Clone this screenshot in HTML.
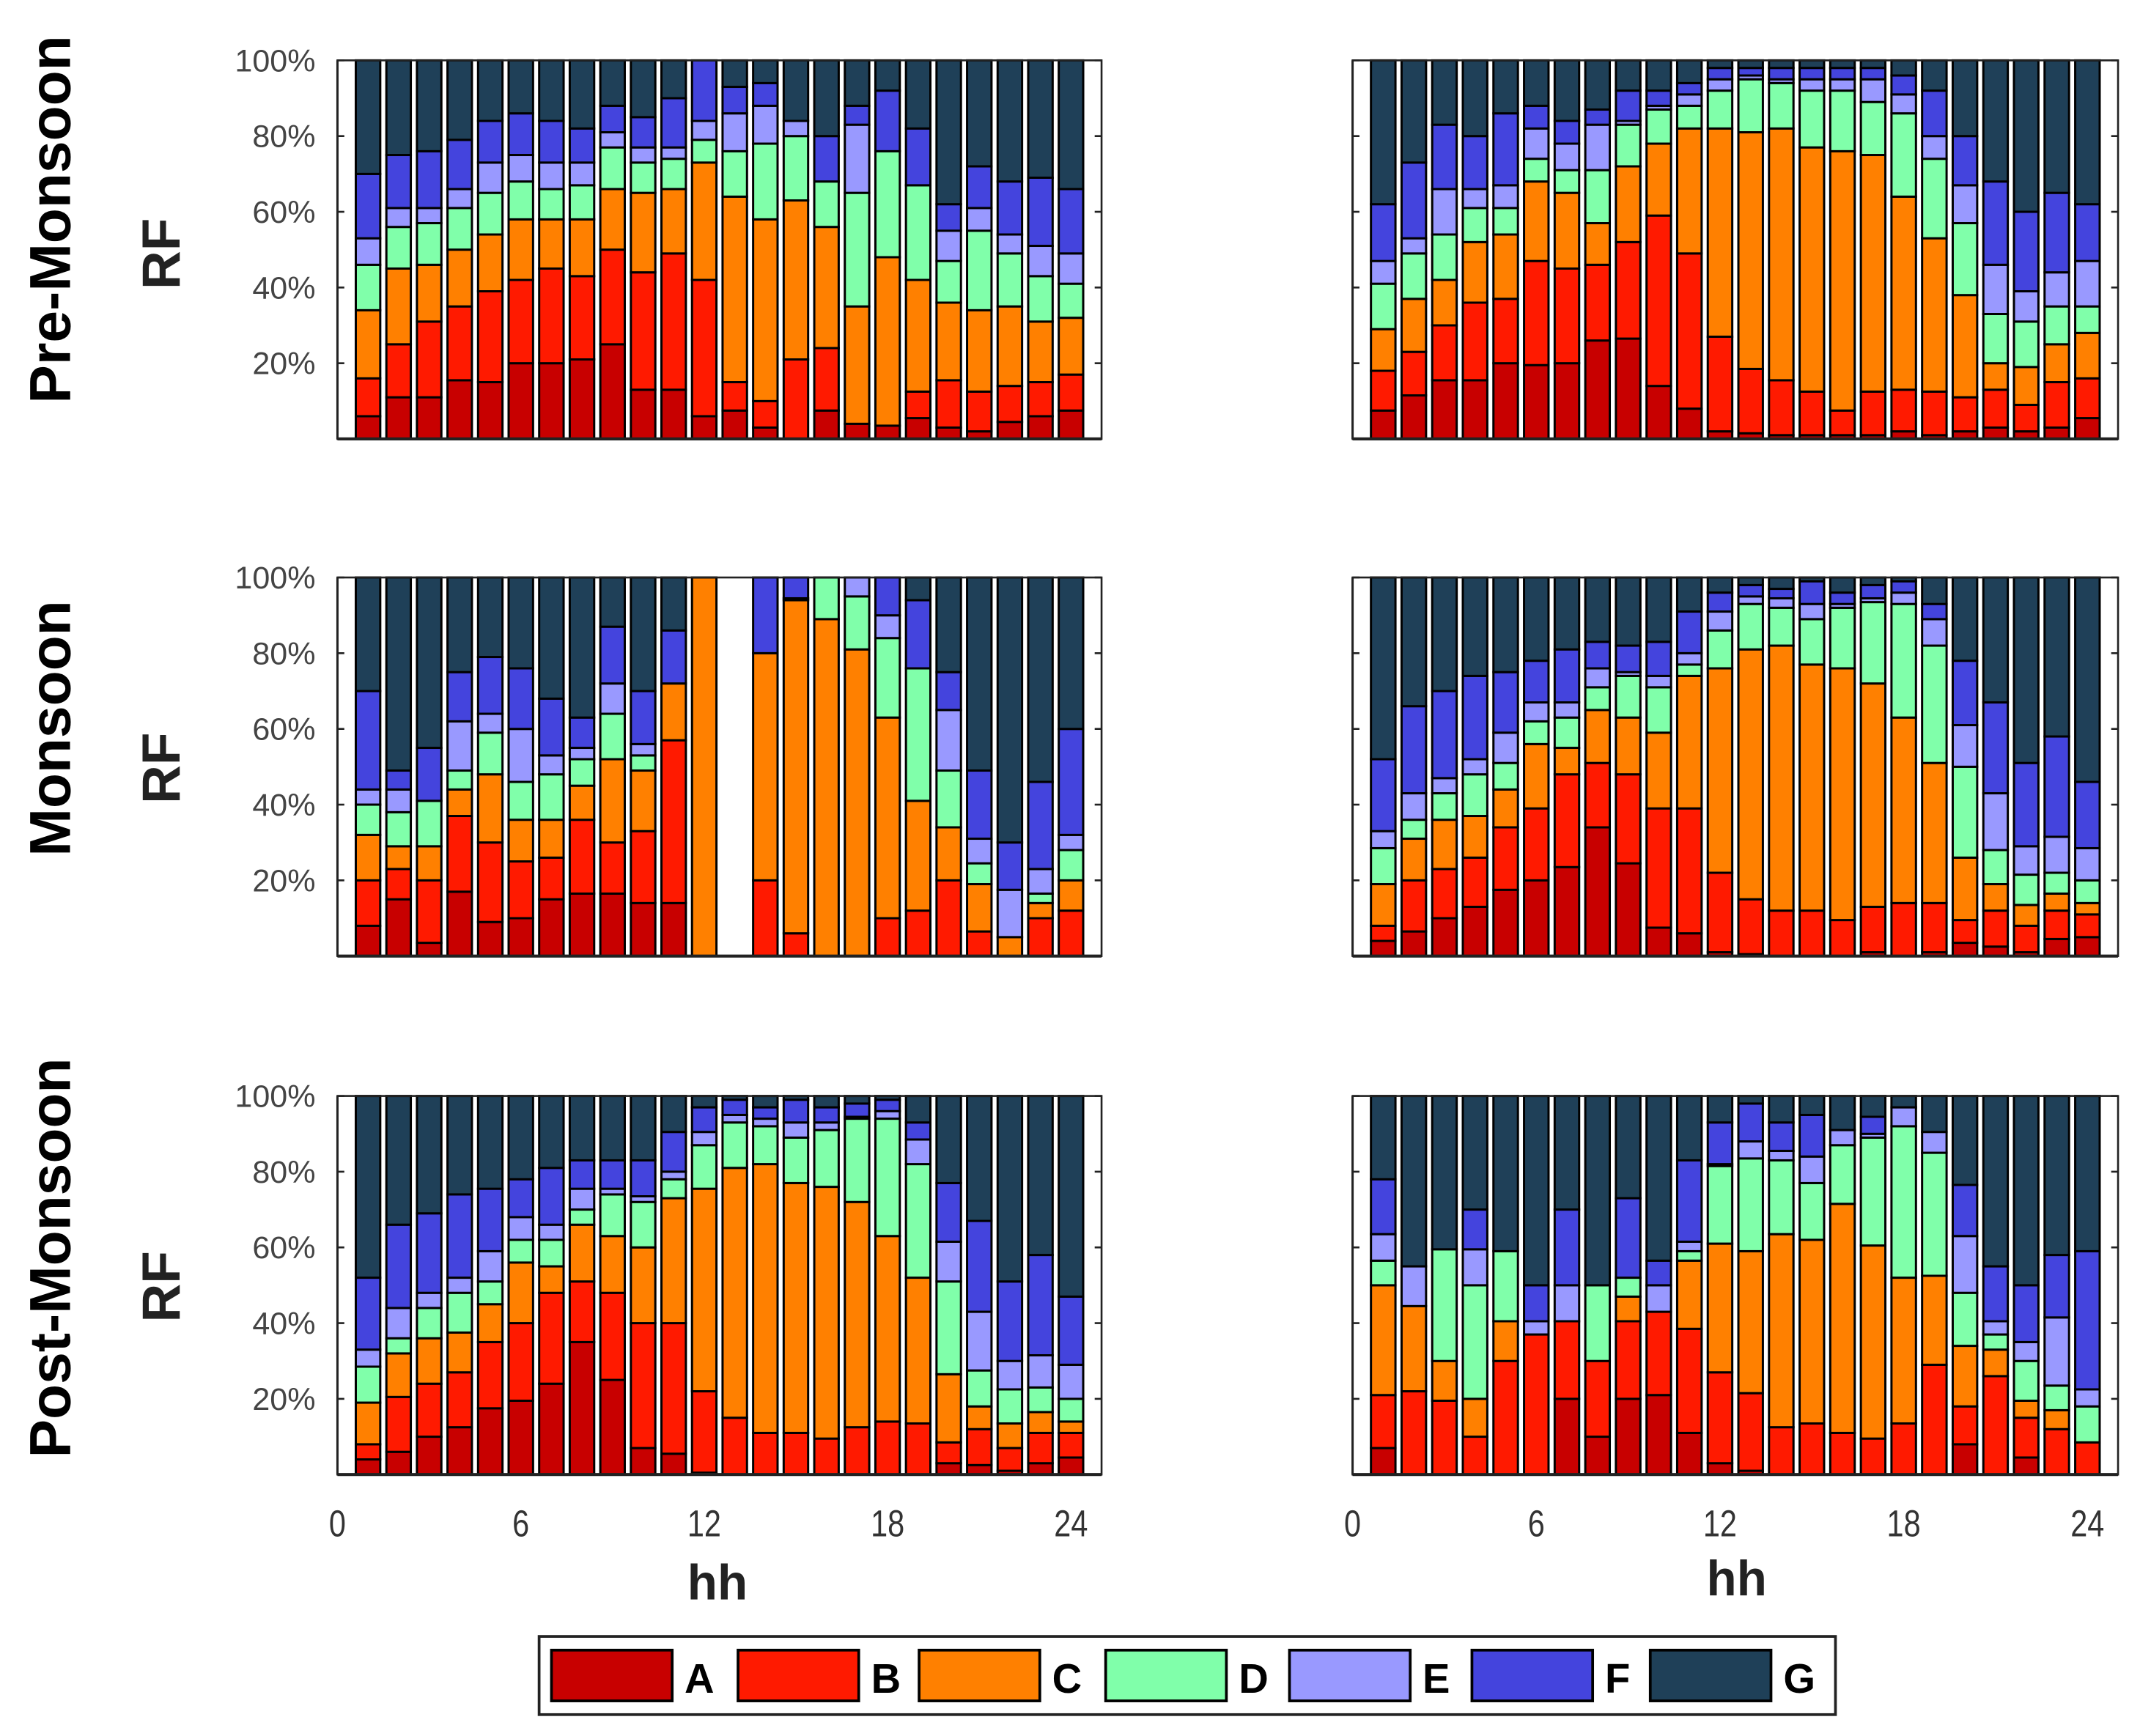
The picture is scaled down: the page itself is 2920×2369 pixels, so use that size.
<!DOCTYPE html>
<html><head><meta charset="utf-8"><title>RF stacked bars</title>
<style>
html,body{margin:0;padding:0;background:#fff;}
svg{display:block;}
</style></head>
<body>
<svg id="chart" width="2920" height="2369" viewBox="0 0 1560 1265.6" preserveAspectRatio="none" xmlns="http://www.w3.org/2000/svg" font-family="'Liberation Sans', sans-serif">
<g id="panels"></g>
<g font-weight="bold" font-size="42" fill="#000">
  <text transform="translate(51,160) rotate(-90)" text-anchor="middle">Pre-Monsoon</text>
  <text transform="translate(51,531) rotate(-90)" text-anchor="middle">Monsoon</text>
  <text transform="translate(51,917) rotate(-90)" text-anchor="middle">Post-Monsoon</text>
</g>
<g font-weight="bold" font-size="39" fill="#222">
  <text transform="translate(131,185) rotate(-90)" text-anchor="middle">RF</text>
  <text transform="translate(131,560) rotate(-90)" text-anchor="middle">RF</text>
  <text transform="translate(131,938) rotate(-90)" text-anchor="middle">RF</text>
</g>
<g font-weight="bold" font-size="36" fill="#222" text-anchor="middle">
  <text x="523" y="1166">hh</text>
  <text x="1266" y="1163">hh</text>
</g>
<g id="legend"></g>
</svg>
<script>
// ---- categories & series ----
const hours = [1,2,3,4,5,6,7,8,9,10,11,12,13,14,15,16,17,18,19,20,21,22,23,24];
const seriesNames = ["A","B","C","D","E","F","G"];
const seriesColors = ["#c80000","#ff1a00","#ff8000","#80ffaa","#9999ff","#4444dd","#1f4058"];
const yTickValues = [20,40,60,80,100];
const yTickLabels = ["20%","40%","60%","80%","100%"];
const xTickValues = [0,6,12,18,24];
const xTickLabels = ["0","6","12","18","24"];

// Cumulative share (%) at the top of each segment A..F (G fills to 100%)
// Pre-Monsoon, left
const preLeftA = [6,11,11,15.5,15,20,20,21,25,13,13,6,7.5,3,0,7.5,4,3.5,5.5,3,2,4.5,6,7.5];
const preLeftB = [16,25,31,35,39,42,45,43,50,44,49,42,15,10,21,24,4,3.5,12.5,15.5,12.5,14,15,17];
const preLeftC = [34,45,46,50,54,58,58,58,66,65,66,73,64,58,63,56,35,48,42,36,34,35,31,32];
const preLeftD = [46,56,57,61,65,68,66,67,77,73,74,79,76,78,80,68,65,76,67,47,55,49,43,41];
const preLeftE = [53,61,61,66,73,75,73,73,81,77,77,84,86,88,84,68,83,76,67,55,61,54,51,49];
const preLeftF = [70,75,76,79,84,86,84,82,88,85,90,100,93,94,84,80,88,92,82,62,72,68,69,66];
// Pre-Monsoon, right
const preRightA = [7.5,11.5,15.5,15.5,20,19.5,20,26,26.5,14,8,2,1.5,1,1,1,1,2,1,2,3,2,3,5.5];
const preRightB = [18,23,30,36,37,47,45,46,52,59,49,27,18.5,15.5,12.5,7.5,12.5,13,12.5,11,13,9,15,16];
const preRightC = [29,37,42,52,54,68,65,57,72,78,82,82,81,82,77,76,75,64,53,38,20,19,25,28];
const preRightD = [41,49,54,61,61,74,71,71,83,87,88,92,95,94,92,92,89,86,74,57,33,31,35,35];
const preRightE = [47,53,66,66,67,82,78,83,84,88,91,95,96,95,95,95,95,91,80,67,46,39,44,47];
const preRightF = [62,73,83,80,86,88,84,87,92,92,94,98,98,98,98,98,98,96,92,80,68,60,65,62];
// Monsoon, left (hour 13 has no data)
const monLeftA = [8,15,3.5,17,9,10,15,16.5,16.5,14,14,0,null,0,0,0,0,0,0,0,0,0,0,0];
const monLeftB = [20,23,20,37,30,25,26,36,30,33,57,0,null,20,6,0,0,10,12,20,6.5,0,10,12];
const monLeftC = [32,29,29,44,48,36,36,45,52,49,72,100,null,80,94,89,81,63,41,34,19,5,14,20];
const monLeftD = [40,38,41,49,59,46,48,52,64,53,72,100,null,80,94,100,95,84,76,49,24.5,5,16.5,28];
const monLeftE = [44,44,41,62,64,60,53,55,72,56,72,100,null,80,94.5,100,100,90,76,65,31,17.5,23,32];
const monLeftF = [70,49,55,75,79,76,68,63,87,70,86,100,null,100,100,100,100,100,94,75,49,30,46,60];
// Monsoon, right
const monRightA = [4,6.5,10,13,17.5,20,23.5,34,24.5,7.5,6,1,0.5,0,0,0,1,0,1,3.5,2.5,1,4.5,5];
const monRightB = [8,20,23,26,34,39,48,51,48,39,39,22,15,12,12,9.5,13,14,14,9.5,12,8,12,11];
const monRightC = [19,31,36,37,44,56,55,65,63,59,74,76,81,82,77,76,72,63,51,26,19,13.5,16.5,14];
const monRightD = [28.5,36,43,48,51,62,63,71,74,71,77,86,93,92,89,92,93.5,93,82,50,28,21.5,22,20];
const monRightE = [33,43,47,52,59,67,67,76,75,74,80,91,95,94.5,93,93,94.5,96,89,61,43,29,31.5,28.5];
const monRightF = [52,66,70,74,75,78,81,83,82,83,91,96,98,97,99,96,98,99,93,78,67,51,58,46];
// Post-Monsoon, left
const postLeftA = [4,6,10,12.5,17.5,19.5,24,35,25,7,5.5,0.5,0,0,0,0,0,0,0,3,2.5,1,3,4.5];
const postLeftB = [8,20.5,24,27,35,40,48,51,48,40,40,22,15,11,11,9.5,12.5,14,13.5,8.5,12,7,11,11];
const postLeftC = [19,32,36,37.5,45,56,55,66,63,60,73,75.5,81,82,77,76,72,63,52,26.5,18,13.5,16.5,14];
const postLeftD = [28.5,36,44,48,51,62,62,70,74,72,78,87,93,92,89,91,94,94,82,51,27.5,22.5,23,20];
const postLeftE = [33,44,48,52,59,68,66,75.5,75.5,73.5,80,90.5,95,94,93,93,94.5,96,88.5,61.5,43,30,31.5,29];
const postLeftF = [52,66,69,74,75.5,78,81,83,83,83,90.5,97,99,97,99,97,98,99,93,77,67,51,58,47];
// Post-Monsoon, right
const postRightA = [7,0,0,0,0,0,20,10,20,21,11,3,1,0,0,0,0,0,0,8,0,4.5,0,0];
const postRightB = [21,22,19.5,10,30,37,40.5,30,40.5,43,38.5,27,21.5,12.5,13.5,11,9.5,13.5,29,18,26,15,12,8.5];
const postRightC = [50,44.5,30,20,40.5,37,40.5,30,47,43,56.5,61,59,63.5,62,71.5,60.5,52,52.5,34,33,19.5,17,8.5];
const postRightD = [56.5,44.5,59.5,50,59,37,40.5,50,52,43,59,81.5,83.5,83,77,87,89,92,85,48,37,30,23.5,18];
const postRightE = [63.5,55,59.5,59.5,59,40.5,50,50,52,50,61.5,82,88,85.5,84,91,90,97,90.5,63,40.5,35,41.5,22.5];
const postRightF = [78,55,59.5,70,59,50,70,50,73,56.5,83,93,98,93,95,91,94.5,97,90.5,76.5,55,50,58,59];

const panels = [
  {name:"pre-monsoon-left",  x0:246, x1:803,  y0:320,  y1:44,  yLabels:true,  xLabels:false, s:[preLeftA,preLeftB,preLeftC,preLeftD,preLeftE,preLeftF]},
  {name:"pre-monsoon-right", x0:986, x1:1544, y0:320,  y1:44,  yLabels:false, xLabels:false, s:[preRightA,preRightB,preRightC,preRightD,preRightE,preRightF]},
  {name:"monsoon-left",      x0:246, x1:803,  y0:697,  y1:421, yLabels:true,  xLabels:false, s:[monLeftA,monLeftB,monLeftC,monLeftD,monLeftE,monLeftF]},
  {name:"monsoon-right",     x0:986, x1:1544, y0:697,  y1:421, yLabels:false, xLabels:false, s:[monRightA,monRightB,monRightC,monRightD,monRightE,monRightF]},
  {name:"post-monsoon-left", x0:246, x1:803,  y0:1075, y1:799, yLabels:true,  xLabels:true,  s:[postLeftA,postLeftB,postLeftC,postLeftD,postLeftE,postLeftF]},
  {name:"post-monsoon-right",x0:986, x1:1544, y0:1075, y1:799, yLabels:false, xLabels:true,  s:[postRightA,postRightB,postRightC,postRightD,postRightE,postRightF]}
];

const NS = "http://www.w3.org/2000/svg";
function mk(tag, attrs, parent){
  const e = document.createElementNS(NS, tag);
  for (const k in attrs) e.setAttribute(k, attrs[k]);
  if (parent) parent.appendChild(e);
  return e;
}
const root = document.getElementById("panels");
const XMIN = 0, XMAX = 25, BARW = 0.8;

panels.forEach(p => {
  const g = mk("g", {}, root);
  
  
  const xs = v => p.x0 + (v - XMIN) / (XMAX - XMIN) * (p.x1 - p.x0);
  const ys = v => p.y0 + v / 100 * (p.y1 - p.y0);

  hours.forEach((h, i) => {
    if (p.s[5][i] === null) return;
    const bg = mk("g", {}, g);
    
    
    const xl = xs(h - BARW/2), w = xs(h + BARW/2) - xl;
    let prev = 0;
    for (let k = 0; k < 7; k++) {
      const top = k < 6 ? p.s[k][i] : 100;
      if (top - prev > 0.01) {
        const r = mk("rect", {x: xl, y: ys(top), width: w, height: ys(prev) - ys(top),
          fill: seriesColors[k], stroke: "#000", "stroke-width": 1.6}, bg);
        
        
      }
      prev = Math.max(prev, top);
    }
  });

  const box = mk("rect", {x: p.x0, y: p.y1, width: p.x1 - p.x0, height: p.y0 - p.y1, fill: "none", stroke: "#222", "stroke-width": 1.4}, g);
  
  
  const xaxis = mk("line", {x1: p.x0, x2: p.x1, y1: p.y0, y2: p.y0, stroke: "#222", "stroke-width": 2.2}, g);
  
  
  const yaxis = mk("line", {x1: p.x0, x2: p.x0, y1: p.y0, y2: p.y1, stroke: "#222", "stroke-width": 1.6}, g);
  
  

  yTickValues.forEach((v, j) => {
    const t = mk("line", {x1: p.x0, x2: p.x0 + 5, y1: ys(v), y2: ys(v), stroke: "#222", "stroke-width": 1.4}, g);
    
    
    const t2 = mk("line", {x1: p.x1, x2: p.x1 - 5, y1: ys(v), y2: ys(v), stroke: "#222", "stroke-width": 1.4}, g);
    
    
    if (p.yLabels) {
      const lb = mk("text", {x: p.x0 - 16, y: ys(v) + 8, "text-anchor": "end", "font-size": 23, fill: "#444"}, g);
      lb.textContent = yTickLabels[j];
      
      
    }
  });
  if (p.xLabels) {
    xTickValues.forEach((v, j) => {
      const lb = mk("text", {x: xs(v), y: p.y0 + 45, "text-anchor": "middle", "font-size": 27, fill: "#333",
        transform: "translate(" + xs(v) + "," + (p.y0 + 45) + ") scale(0.82,1) translate(" + (-xs(v)) + "," + (-(p.y0 + 45)) + ")"}, g);
      lb.textContent = xTickLabels[j];
      
      
    });
  }
});

const lg = document.getElementById("legend");
const lbox = mk("rect", {x: 393, y: 1193, width: 945, height: 57, fill: "#fff", stroke: "#222", "stroke-width": 2}, lg);


const legendX = [402, 538, 670, 806, 940, 1073, 1203];
seriesNames.forEach((n, k) => {
  const eg = mk("g", {}, lg);
  
  
  const sw = mk("rect", {x: legendX[k], y: 1203, width: 88, height: 37, fill: seriesColors[k], stroke: "#000", "stroke-width": 2}, eg);
  
  
  const tx = mk("text", {x: legendX[k] + 97, y: 1234, "font-size": 30, "font-weight": "bold", fill: "#000"}, eg);
  tx.textContent = n;
  
  
});
</script>
</body></html>
